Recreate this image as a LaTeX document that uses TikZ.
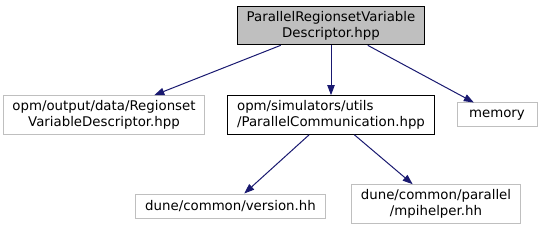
\documentclass[tikz,border=0pt]{standalone}
\usepackage{fontspec}
\setmainfont{DejaVu Sans}
\usetikzlibrary{arrows.meta}

\definecolor{edgeblue}{HTML}{191970}
\definecolor{boxgrey}{HTML}{BFBFBF}

\begin{document}
\begin{tikzpicture}[x=0.75pt,y=-0.75pt,
  file/.style={draw=boxgrey, line width=0.75pt, inner xsep=7pt, inner ysep=2pt,
    font=\fontsize{10}{12}\selectfont, align=center, minimum height=18pt},
  twoline/.style={minimum height=29pt},
  dep/.style={edgeblue, line width=0.75pt, -{Triangle[length=7.5pt,width=5.5pt]}}]

\useasboundingbox (0,0) rectangle (541,231);

% ============================
% FILES
% ============================

\node[file, twoline, fill=boxgrey, draw=black] (desc) at (331,25.5)
  {ParallelRegionsetVariable\\Descriptor.hpp};

\node[file, twoline] (regionset) at (104,115)
  {opm/output/data/Regionset\\VariableDescriptor.hpp};
\node[file, twoline, draw=black, align=left] (comm) at (331,115)
  {opm/simulators/utils\\/ParallelCommunication.hpp};
\node[file, minimum width=60pt] (memory) at (497,115) {memory};

\node[file] (version) at (230.5,206) {dune/common/version.hh};
\node[file, twoline] (mpihelper) at (436,204)
  {dune/common/parallel\\/mpihelper.hh};

% ============================
% INCLUDES
% ============================

\draw[dep] (desc) -- (regionset);
\draw[dep] (desc) -- (comm);
\draw[dep] (desc) -- (memory);
\draw[dep] (comm) -- (version);
\draw[dep] (comm) -- (mpihelper);

\end{tikzpicture}
\end{document}
